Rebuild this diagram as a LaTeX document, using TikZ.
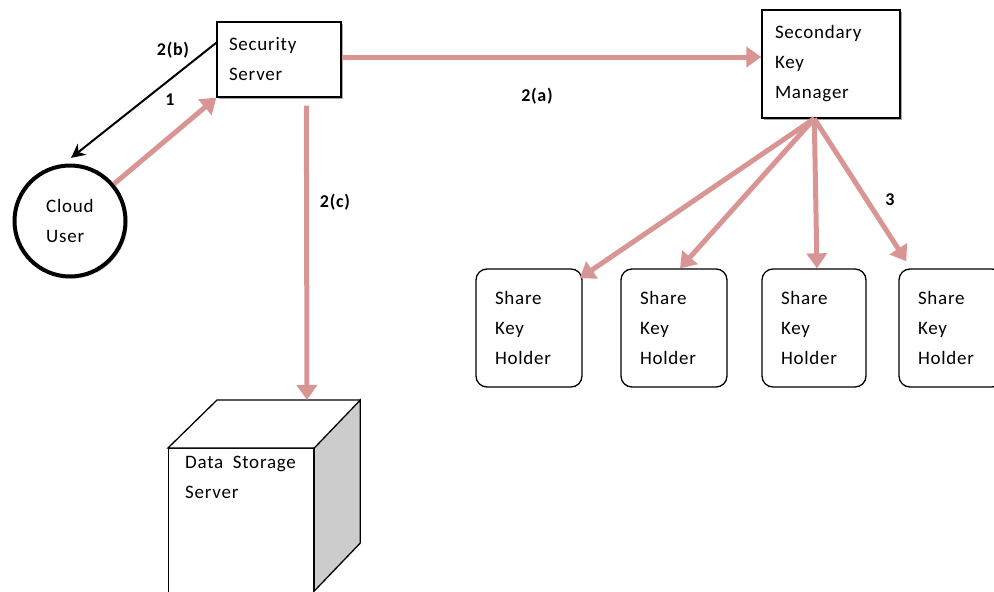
\documentclass[tikz,border=0pt]{standalone}
\usepackage{fontspec}
\setmainfont{Carlito}[LetterSpace=4]
\usetikzlibrary{arrows.meta,calc,shadows}
\definecolor{pinkc}{RGB}{217,149,148}
\tikzset{
  txt/.style={font=\fontsize{19}{30}\selectfont},
  lbl/.style={font=\bfseries\fontsize{18}{20}\selectfont, inner sep=0pt},
  sqbox/.style={txt, draw=black, line width=1.3pt, fill=white, align=left, rectangle,
    drop shadow={shadow xshift=1.8pt, shadow yshift=-1.8pt, fill=gray!70, opacity=1}},
  holder/.style={txt, draw=black, line width=1.3pt, fill=white, align=left, rectangle,
    rounded corners=11pt, minimum height=118pt, inner xsep=19pt, inner ysep=0pt},
  pinkarrow/.style={draw=pinkc, line width=5pt, -{Triangle[width=20pt,length=15pt]}},
  blackarrow/.style={draw=black, line width=2pt, -{Stealth[width=14pt,length=14pt]}},
}
\begin{document}
\begin{tikzpicture}[x=1pt, y=-1pt]
\useasboundingbox (0,0) rectangle (994,592);
% Security Server
\node[sqbox, minimum width=124pt, minimum height=75pt, text width=100pt, inner xsep=12pt, inner ysep=0pt]
  (ss) at (279,59.5) {Security\\Server};
% Secondary Key Manager
\node[sqbox, minimum width=138pt, minimum height=108pt, text width=112pt, inner xsep=13pt, inner ysep=0pt]
  (skm) at (831,64) {Secondary\\Key\\Manager};
% Cloud User
\node[txt, circle, draw=black, line width=4pt, fill=white, minimum size=111pt, inner sep=0pt, align=left,
  drop shadow={shadow xshift=2pt, shadow yshift=-2pt, fill=gray!35, opacity=1}]
  (cu) at (70,221) {Cloud\\User};
% Share Key Holders
\node[holder, text width=68pt] (skh1) at (529,328) {Share\\Key\\Holder};
\node[holder, text width=68pt] (skh2) at (674,328) {Share\\Key\\Holder};
\node[holder, text width=66pt] (skh3) at (814,328) {Share\\Key\\Holder};
\node[holder, text width=66pt] (skh4) at (951,328) {Share\\Key\\Holder};
% Data Storage Server cube
\node[draw=black, line width=1.3pt, fill=white, minimum width=145pt, minimum height=146pt, inner sep=0pt, anchor=north west]
  (front) at (168,448) {};
\coordinate (btl) at ($(front.north west)+(49,-48)$);
\coordinate (btr) at ($(front.north east)+(46,-48)$);
\coordinate (bbr) at ($(front.north east)+(46,95)$);
\coordinate (fbr) at ($(front.north east)+(0,143)$);
\fill[white] (front.north west) -- (btl) -- (btr) -- (front.north east) -- cycle;
\draw[line width=1.3pt, fill=gray!40, line join=miter] (front.north east) -- (btr) -- (bbr) -- (fbr) -- cycle;
\draw[line width=1.3pt] (front.north east) -- (front.north west) -- (btl) -- (btr);
\node[txt, anchor=north west, align=left, inner sep=0pt] (dss) at ($(front.north west)+(17,8)$) {Data\enspace Storage\\Server};
\coordinate (dsstop) at ($(front.north west)+(139,-48)$);
% Connectors
\draw[pinkarrow] (cu) -- (ss.south west);
\draw[blackarrow, shorten >=9pt] ($(ss.north west)!0.28!(ss.south west)$) -- ([xshift=-6pt]cu.north);
\draw[pinkarrow] ([yshift=2.5pt]ss.east) -- ([yshift=2.5pt]ss.east -| skm.west);
\draw[pinkarrow] ($(ss.south west)+(90,8)$) -- (dsstop);
\coordinate (o) at ($(skm.south west)!0.38!(skm.south east)$);
\draw[pinkarrow] (o) -- ([xshift=-3pt,yshift=-10pt]skh1.north east);
\draw[pinkarrow] (o) -- ([xshift=6pt]skh2.north);
\draw[pinkarrow] (o) -- ([xshift=3pt]skh3.north);
\draw[pinkarrow] (o) -- ([xshift=8pt,yshift=7pt]skh4.north west);
% Labels
\node[lbl] (l2b) at (173,50) {2(b)};
\node[lbl] (l1) at (170,100) {1};
\node[lbl] (l2a) at (537,96) {2(a)};
\node[lbl] (l2c) at (335,202) {2(c)};
\node[lbl] (l3) at (890,200) {3};
\end{tikzpicture}
\end{document}
